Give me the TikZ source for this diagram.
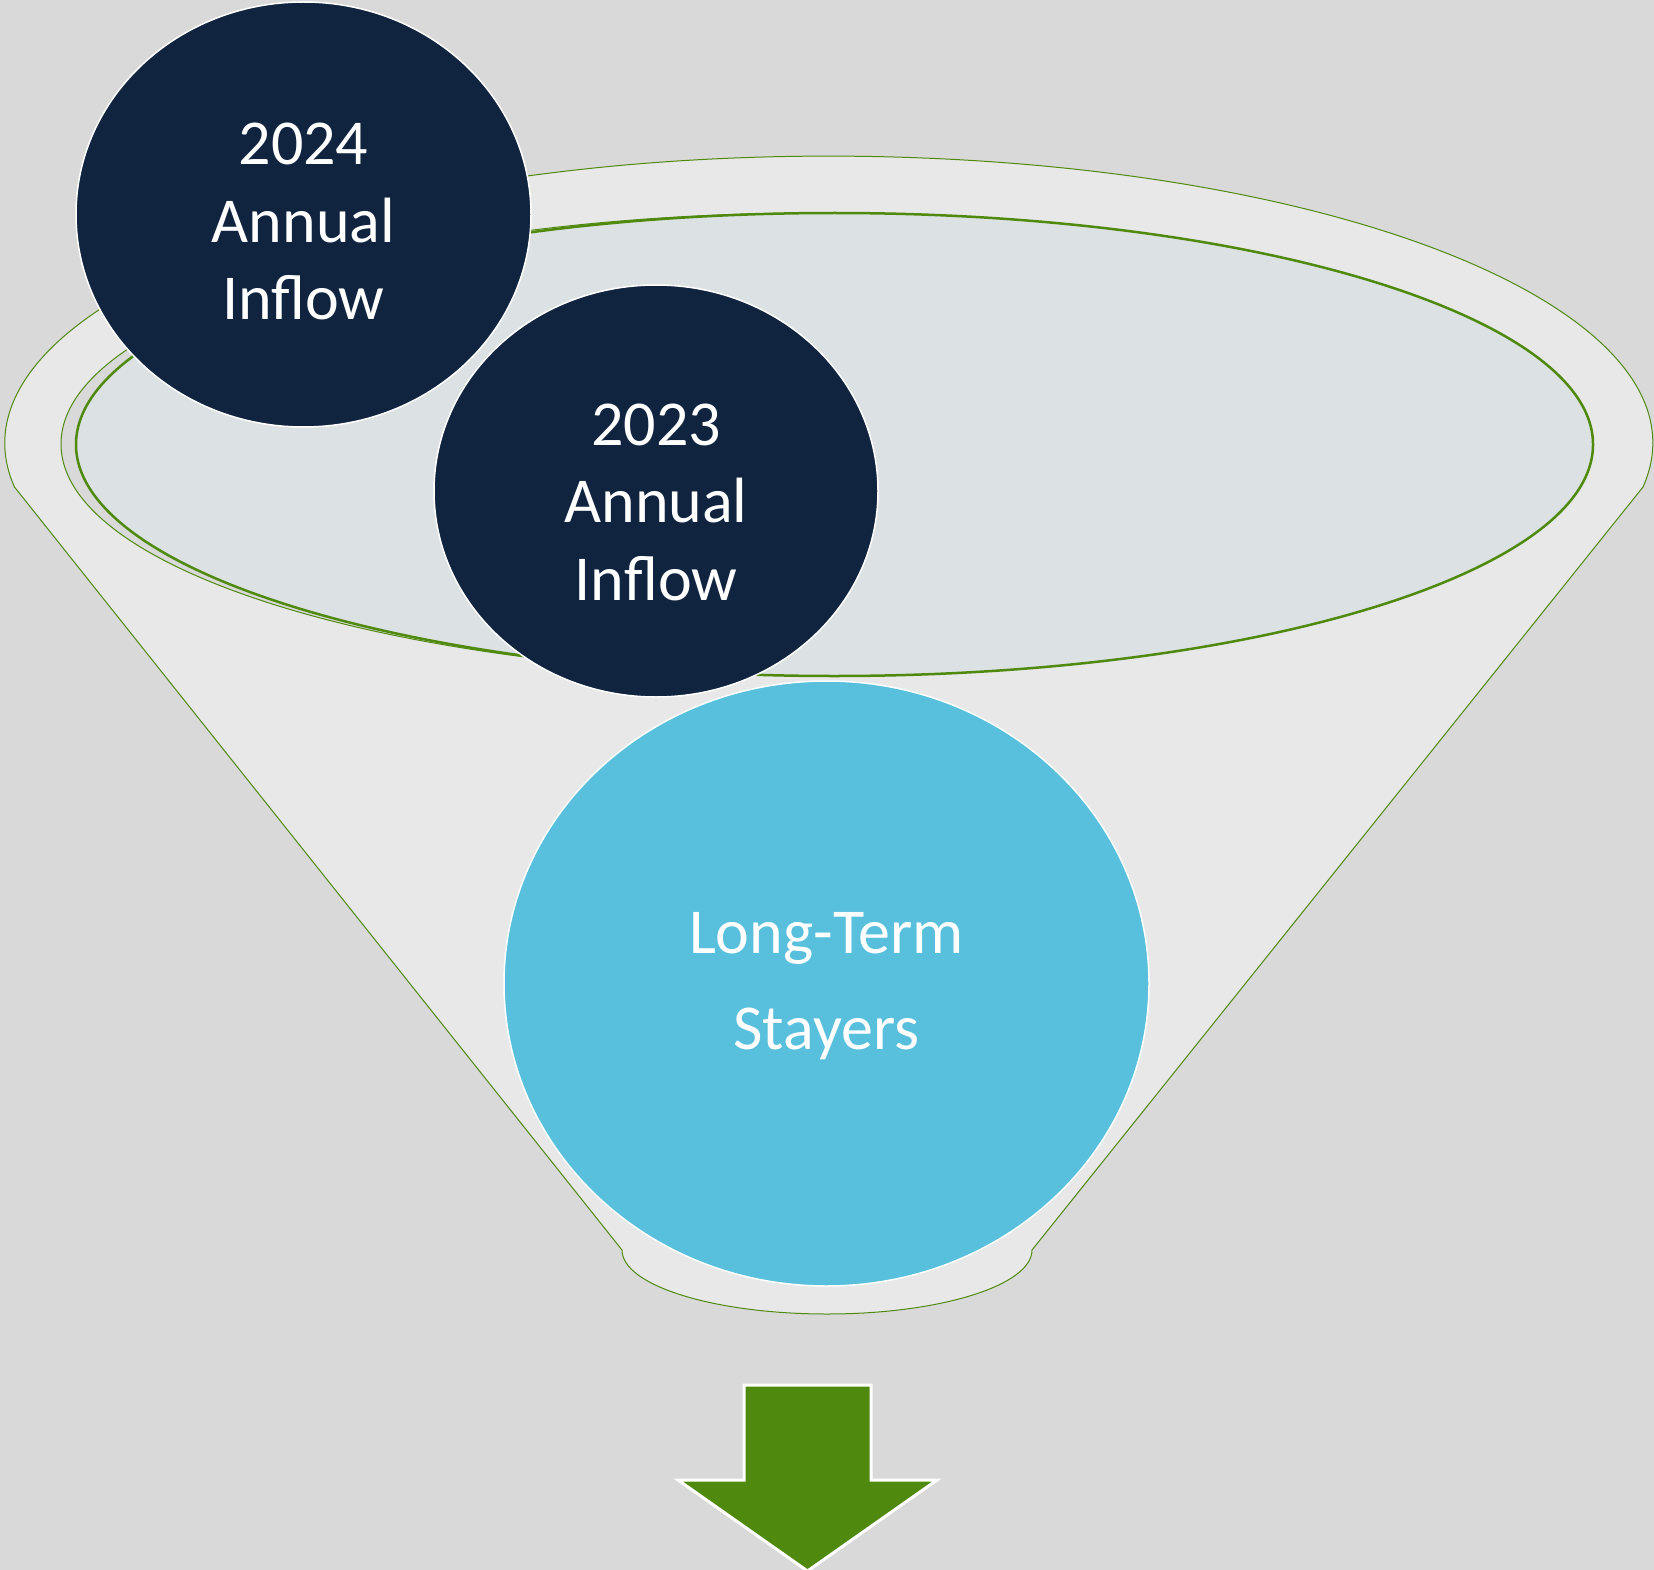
\documentclass[tikz,border=0pt]{standalone}
\usepackage{fontspec}
\setmainfont{Carlito}
\usetikzlibrary{shapes.geometric}

\definecolor{pagegray}{HTML}{D9D9D9}
\definecolor{funnelgray}{HTML}{E8E8E8}
\definecolor{bowlgray}{HTML}{DCE1E3}
\definecolor{inflownavy}{HTML}{11243F}
\definecolor{stayerblue}{HTML}{58C0DC}
\definecolor{funnelgreen}{HTML}{4F8A0E}

\tikzset{
  bubble/.style = {ellipse, draw = white, line width = 1.5, inner sep = 0},
  bubbletext/.style = {text = white, align = center, font = \fontsize{64}{77.5}\selectfont},
  rim/.style = {draw = funnelgreen, line width = 1},
}

\begin{document}
\begin{tikzpicture}[x = 1pt, y = -1pt]
\fill [pagegray] (0, 0) rectangle (1654, 1570);
\useasboundingbox (0, 0) rectangle (1654, 1570);
% funnel body
\filldraw [rim, fill = funnelgray] (1643, 487) arc [start angle = 8.8, end angle = -188.8, x radius = 824, y radius = 287] -- (622, 1250) arc [start angle = 180, end angle = 0, x radius = 205, y radius = 64] -- cycle;
% mouth of the funnel
\filldraw [rim, fill = pagegray] (819, 444) ellipse [x radius = 758, y radius = 231];
\filldraw [rim, fill = bowlgray, line width = 2.5] (834.5, 444.5) ellipse [x radius = 758.5, y radius = 231.5];
\node [bubble, fill = inflownavy, minimum width = 455, minimum height = 425, label = {[bubbletext, yshift = -7]center:{2024\\Annual\\Inflow}}] (inflow24) at (303.5, 214.5) {};
\node [bubble, fill = inflownavy, minimum width = 444, minimum height = 412, label = {[bubbletext, yshift = -11]center:{2023\\Annual\\Inflow}}] (inflow23) at (656, 491) {};
\node [bubble, fill = stayerblue, minimum width = 645, minimum height = 605, label = {[bubbletext, font = \fontsize{64}{96}\selectfont, yshift = -3]center:{Long-Term\\Stayers}}] (stayers) at (826.5, 983.5) {};
% outflow arrow
\filldraw [fill = funnelgreen, draw = white, line width = 3] (744, 1385) -- (871, 1385) -- (871, 1480) -- (937, 1480) -- (807.5, 1571) -- (678, 1480) -- (744, 1480) -- cycle;
\end{tikzpicture}
\end{document}
